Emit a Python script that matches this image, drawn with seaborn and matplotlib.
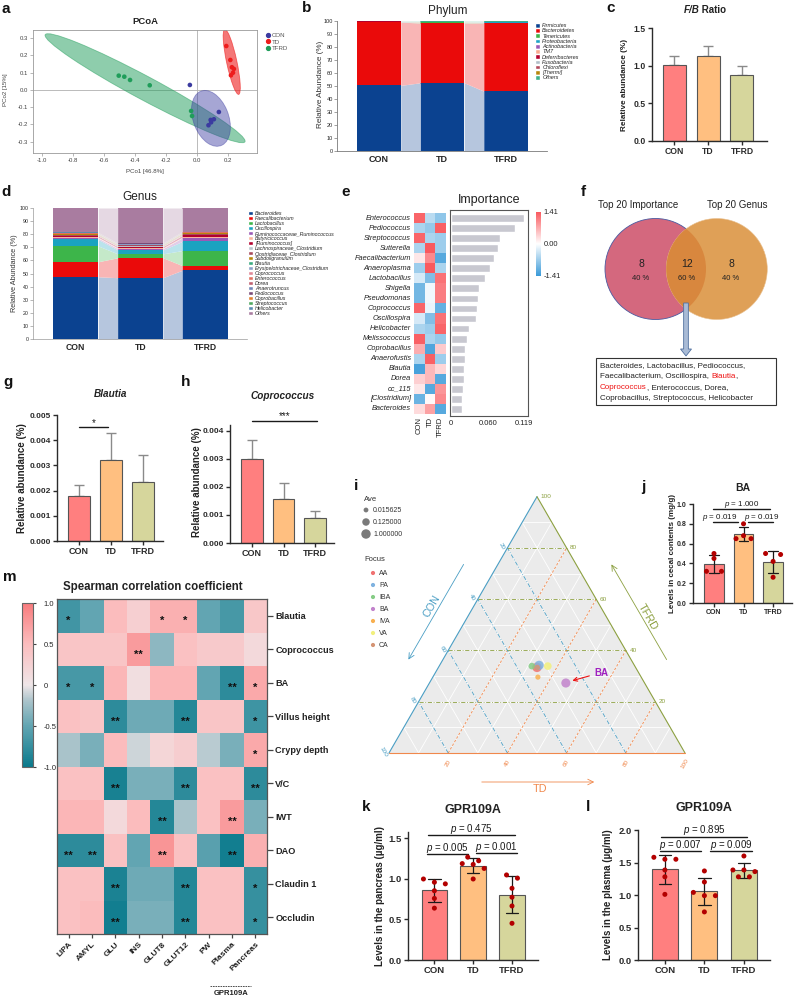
import numpy as np
import pandas as pd
import matplotlib
matplotlib.use("Agg")
import matplotlib.pyplot as plt
import matplotlib.transforms as mtrans
from matplotlib.patches import Ellipse, Patch, Polygon, Rectangle, FancyArrow, Circle
from matplotlib.lines import Line2D
from matplotlib.colors import LinearSegmentedColormap, to_rgb
import seaborn as sns

sns.set_style("ticks")
plt.rcParams["font.family"] = ["Liberation Sans", "DejaVu Sans"]
plt.rcParams["mathtext.fontset"] = "custom"
plt.rcParams["mathtext.rm"] = "Liberation Sans"
plt.rcParams["mathtext.it"] = "Liberation Sans:italic"
plt.rcParams["mathtext.bf"] = "Liberation Sans:bold"
plt.rcParams["axes.unicode_minus"] = False

# ------------------------------------------------------------------ DATA
groups = ["CON", "TD", "TFRD"]
group_colors = ["#ff7f7f", "#ffbf80", "#d6d69c"]

# a  PCoA
pcoa_con_x = [-0.046, 0.141, 0.109, 0.088, 0.091, 0.074]
pcoa_con_y = [0.029, -0.128, -0.170, -0.174, -0.188, -0.205]
pcoa_td_x = [0.189, 0.215, 0.225, 0.238, 0.232, 0.219]
pcoa_td_y = [0.255, 0.174, 0.132, 0.122, 0.100, 0.085]
pcoa_tfrd_x = [-0.505, -0.469, -0.432, -0.305, -0.038, -0.032]
pcoa_tfrd_y = [0.083, 0.077, 0.058, 0.027, -0.122, -0.151]
ellipse_cx = [0.090, 0.224, -0.335]
ellipse_cy = [-0.165, 0.163, 0.010]
ellipse_w = [0.342, 0.388, 1.431]
ellipse_h = [0.226, 0.066, 0.139]
ellipse_angle = [-65.0, -76.6, -25.7]

# b  Phylum
phylum_names = ["Firmicutes", "Bacteroidetes", "Tenericutes", "Proteobacteria", "Actinobacteria",
                "TM7", "Deferribacteres", "Fusobacteria", "Chloroflexi", "[Thermi]", "Others"]
phylum_colors = ["#0b4290", "#ea0a0a", "#3db54a", "#1ba3c6", "#9b59b6", "#f9a98e",
                 "#b3002d", "#b0bec8", "#b24a5c", "#b8860b", "#3fb08a"]
phylum_con = [50.5, 48.6, 0.2, 0.2, 0.05, 0.05, 0.05, 0.02, 0.02, 0.01, 0.3]
phylum_td = [52.5, 46.0, 0.4, 0.2, 0.05, 0.05, 0.05, 0.02, 0.02, 0.3, 0.4]
phylum_tfrd = [46.0, 52.6, 0.2, 0.3, 0.05, 0.05, 0.05, 0.02, 0.02, 0.01, 0.7]

# c  F/B ratio
fb_mean = [1.01, 1.13, 0.875]
fb_err = [0.12, 0.13, 0.12]

# d  Genus
genus_names = ["Bacteroides", "Faecalibacterium", "Lactobacillus", "Oscillospira",
               "Ruminococcaceae_Ruminococcus", "Butyricicoccus", "[Ruminococcus]",
               "Lachnospiraceae_Clostridium", "Clostridiaceae_Clostridium", "Subdoligranulum",
               "Blautia", "Erysipelotrichaceae_Clostridium", "Coprococcus", "Enterococcus",
               "Dorea", "Anaerotruncus", "Pediococcus", "Coprobacillus", "Streptococcus",
               "Helicobacter", "Others"]
genus_colors = ["#0b4290", "#ea0a0a", "#3db54a", "#1aa3c0", "#9b59b6", "#f9b49c", "#b3002d",
                "#b8c4cc", "#a84a5c", "#b8860b", "#3aaa80", "#8a9ec8", "#e08898", "#e07060",
                "#c06070", "#6f86b8", "#7a4a78", "#e08030", "#50a860", "#5a8ab0", "#a97ca0"]
genus_con = [47.5, 11.5, 12.0, 5.0, 1.0, 0.6, 1.0, 0.3, 0.5, 0.5, 0.2, 0.2, 0.2, 0.1, 0.2,
             0.1, 0.1, 0.1, 0.1, 0.1, 18.7]
genus_td = [46.8, 15.2, 3.0, 3.0, 1.0, 0.6, 1.0, 0.4, 0.5, 0.4, 0.2, 0.2, 0.15, 0.1, 0.2,
            0.1, 0.1, 0.1, 0.1, 0.1, 26.75]
genus_tfrd = [52.5, 3.5, 11.5, 7.0, 2.8, 0.5, 1.4, 0.4, 0.5, 0.6, 0.2, 0.2, 0.15, 0.1, 0.2,
              0.1, 0.1, 0.1, 0.1, 0.1, 17.95]

# e  Importance
imp_genera = ["Enterococcus", "Pediococcus", "Streptococcus", "Sutterella", "Faecalibacterium",
              "Anaeroplasma", "Lactobacillus", "Shigella", "Pseudomonas", "Coprococcus",
              "Oscillospira", "Helicobacter", "Melissococcus", "Coprobacillus", "Anaerofustis",
              "Blautia", "Dorea", "cc_115", "[Clostridium]", "Bacteroides"]
imp_values = [0.119, 0.105, 0.0795, 0.0763, 0.0698, 0.0638, 0.0557, 0.0449, 0.0438, 0.0417,
              0.0400, 0.0298, 0.0265, 0.0233, 0.0222, 0.0211, 0.0206, 0.0200, 0.0184, 0.0179]
imp_z_con = [1.30, -0.60, 1.30, -0.60, 0.20, -0.70, -0.30, -1.00, -1.00, 1.30,
             -0.30, -0.60, 1.35, 0.70, -0.60, -1.30, 0.40, 0.20, -1.05, 0.30]
imp_z_td = [-0.50, -0.75, -0.60, 1.40, 1.00, 1.40, -0.90, -0.10, -0.10, -0.15,
            -0.90, -0.70, -0.60, -1.25, 1.35, 0.60, 0.60, -1.20, 0.05, 0.80]
imp_z_tfrd = [-0.80, 1.35, -0.70, -0.70, -1.20, -0.60, 1.20, 1.10, 1.10, -1.10,
              1.20, 1.30, -0.75, 0.45, -0.70, 0.35, -1.20, 0.90, 1.00, -1.20]

# f  Venn
venn_only_importance = 8
venn_shared = 12
venn_only_genus = 8
venn_shared_list = [[("Bacteroides, Lactobacillus, Pediococcus,", "#222222")],
                    [("Faecalibacterium, Oscillospira, ", "#222222"), ("Blautia", "#ee1111"), (",", "#222222")],
                    [("Coprococcus", "#ee1111"), (", Enterococcus, Dorea,", "#222222")],
                    [("Coprobacillus, Streptococcus, Helicobacter", "#222222")]]

# g, h
blautia_mean = [0.00177, 0.00320, 0.00235]
blautia_err = [0.00046, 0.00107, 0.00107]
copro_mean = [0.00298, 0.00157, 0.00088]
copro_err = [0.00071, 0.00056, 0.00027]

# i  ternary
tern_focus = ["AA", "PA", "IBA", "BA", "IVA", "VA", "CA"]
focus_colors = ["#f07272", "#7fb2e0", "#86cc86", "#c283cc", "#f8b050", "#f2f07e", "#d49474"]
tern_con = [0.333, 0.322, 0.348, 0.266, 0.349, 0.294, 0.333]
tern_td = [0.333, 0.336, 0.313, 0.461, 0.355, 0.367, 0.334]
tern_tfrd = [0.334, 0.342, 0.339, 0.273, 0.296, 0.339, 0.333]
tern_ave = [1.0, 0.8, 0.06, 0.7, 0.02, 0.15, 0.03]
ave_legend = [0.015625, 0.125, 1.0]

# j, k, l
ba_con = [0.50, 0.45, 0.32, 0.32]
ba_td = [0.80, 0.68, 0.65, 0.65]
ba_tfrd = [0.50, 0.49, 0.42, 0.26]
gpr_pan_con = [0.96, 1.00, 0.94, 0.855, 0.76, 0.64]
gpr_pan_td = [1.27, 1.19, 1.225, 1.18, 1.13, 1.00]
gpr_pan_tfrd = [1.05, 1.01, 0.885, 0.775, 0.667, 0.453]
gpr_pla_con = [1.55, 1.58, 1.55, 1.385, 1.28, 1.01]
gpr_pla_td = [1.37, 1.20, 1.04, 0.99, 0.99, 0.74]
gpr_pla_tfrd = [1.60, 1.385, 1.385, 1.36, 1.28, 1.28]

# m  Spearman
m_rows = ["Blautia", "Coprococcus", "BA", "Villus height", "Crypy depth", "V/C", "IWT",
          "DAO", "Claudin 1", "Occludin"]
m_cols = ["LIPA", "AMYL", "GLU", "INS", "GLUT8", "GLUT12", "PW", "Plasma", "Pancreas"]
m_vals = [
    [-0.68, -0.50, 0.50, 0.28, 0.60, 0.60, -0.50, -0.65, 0.38],
    [0.40, 0.40, 0.40, 0.75, -0.32, 0.45, 0.35, 0.35, 0.15],
    [-0.65, -0.65, 0.55, 0.10, 0.55, 0.55, -0.50, -0.80, 0.65],
    [0.45, 0.40, -0.80, -0.45, -0.45, -0.85, 0.40, 0.40, -0.70],
    [-0.20, -0.40, 0.50, -0.10, 0.20, 0.30, -0.15, -0.40, 0.65],
    [0.45, 0.45, -0.92, -0.40, -0.40, -0.80, 0.45, 0.45, -0.80],
    [0.55, 0.55, 0.15, 0.50, -0.85, -0.20, 0.45, 0.75, -0.40],
    [-0.80, -0.80, 0.45, -0.50, 0.80, 0.45, -0.55, -0.95, 0.60],
    [0.45, 0.45, -0.90, -0.45, -0.45, -0.85, 0.45, 0.45, -0.75],
    [0.45, 0.50, -0.95, -0.40, -0.40, -0.85, 0.45, 0.45, -0.75],
]
m_stars = [
    ["*", "", "", "", "*", "*", "", "", ""],
    ["", "", "", "**", "", "", "", "", ""],
    ["*", "*", "", "", "", "", "", "**", "*"],
    ["", "", "**", "", "", "**", "", "", "*"],
    ["", "", "", "", "", "", "", "", "*"],
    ["", "", "**", "", "", "**", "", "", "**"],
    ["", "", "", "", "**", "", "", "**", ""],
    ["**", "**", "", "", "**", "", "", "**", ""],
    ["", "", "**", "", "", "**", "", "", "*"],
    ["", "", "**", "", "", "**", "", "", "*"],
]

# ------------------------------------------------------------------ FIGURE
W, H = 794, 997
fig = plt.figure(figsize=(W / 100, H / 100), dpi=100)


def add_ax(x0, y0, x1, y1, **kw):
    return fig.add_axes([x0 / W, 1 - y1 / H, (x1 - x0) / W, (y1 - y0) / H], **kw)


ov = fig.add_axes([0, 0, 1, 1], zorder=10)
ov.set_xlim(0, W)
ov.set_ylim(H, 0)
ov.axis("off")

TXT = "#222222"


def lighten(c, a=0.3):
    r = np.array(to_rgb(c))
    return tuple(a * r + (1 - a))


def chain_text(x, y, segments, center=False, styles=None, **kw):
    styles = styles or ["normal"] * len(segments)
    t0 = ov.text(x, y, segments[0][0], ha="left", va="center", color=segments[0][1],
                 fontstyle=styles[0], **kw)
    arts = [t0]
    prev = t0
    for (s, c), st in zip(segments[1:], styles[1:]):
        a = ov.annotate(s, xy=(1, 0), xycoords=prev, ha="left", va="bottom", color=c,
                        fontstyle=st, **kw)
        arts.append(a)
        prev = a
    if center:
        r = fig.canvas.get_renderer()
        w = arts[-1].get_window_extent(r).x1 - t0.get_window_extent(r).x0
        t0.set_transform(ov.transData + mtrans.ScaledTranslation(-w / 2 / fig.dpi, 0, fig.dpi_scale_trans))
    return arts


def panel_letter(x, y, s):
    ov.text(x, y, s, fontsize=11, fontweight="bold", ha="left", va="center", color="#111111")


def gp_finalize(ax, yticks, yfmt, fs_y, fs_x):
    sns.despine(ax=ax)
    for s in ("left", "bottom"):
        ax.spines[s].set_color("#2b2b2b")
        ax.spines[s].set_linewidth(1.0)
    ax.set_yticks(yticks)
    ax.set_yticklabels([yfmt % v for v in yticks], fontweight="bold", fontsize=fs_y)
    ax.set_xticks(range(3))
    ax.set_xticklabels(groups, fontweight="bold", fontsize=fs_x)
    ax.tick_params(axis="both", length=3, width=1.0, colors="#2b2b2b", pad=1.5)
    ax.set_xlabel("")
    ax.set_ylabel("")


def summary_bar(ax, means, errs, err_color="#8a8a8a"):
    df = pd.DataFrame({"group": groups, "value": means})
    sns.barplot(data=df, x="group", y="value", hue="group", palette=group_colors, width=0.68,
                saturation=1, edgecolor="#555555", linewidth=0.8, errorbar=None, legend=False, ax=ax)
    ax.errorbar(np.arange(3), means, yerr=[np.zeros(3), errs], fmt="none", ecolor=err_color,
                elinewidth=1.0, capsize=3.5, capthick=1.0, zorder=0.9)


def spread_offsets(values, px_per_unit, px_per_cat, thresh_px=5.0, step_px=11.0):
    """GraphPad-like scatter: points of (nearly) equal height share a row and are spread evenly."""
    vals = np.asarray(values, dtype=float)
    order = np.argsort(-vals)
    offs = np.zeros(len(vals))
    clusters, cur = [], [order[0]]
    for idx in order[1:]:
        if (vals[cur[0]] - vals[idx]) * px_per_unit < thresh_px:
            cur.append(idx)
        else:
            clusters.append(cur)
            cur = [idx]
    clusters.append(cur)
    for cl in clusters:
        n = len(cl)
        for k, idx in enumerate(cl):
            offs[idx] = (k - (n - 1) / 2) * step_px / px_per_cat
    return offs


def points_bar(ax, con, td, tfrd, px_per_unit, px_per_cat, step_px=11.0, thresh_px=5.0):
    df = pd.DataFrame({"group": ["CON"] * len(con) + ["TD"] * len(td) + ["TFRD"] * len(tfrd),
                       "value": con + td + tfrd})
    sns.barplot(data=df, x="group", y="value", hue="group", palette=group_colors, width=0.66,
                saturation=1, errorbar="sd", capsize=0.32,
                err_kws={"color": "#1a1a1a", "linewidth": 0.9},
                edgecolor="#555555", linewidth=0.8, legend=False, ax=ax)
    xs = []
    for gi, vals in enumerate([con, td, tfrd]):
        xs.extend(gi + spread_offsets(vals, px_per_unit, px_per_cat, thresh_px=thresh_px, step_px=step_px))
    df["xpos"] = xs
    sns.scatterplot(data=df, x="xpos", y="value", color="#b30000", s=13, edgecolor="none",
                    legend=False, ax=ax, zorder=4)


def sig(ax, xa, xb, y, text, fs, dy=0.6, xtext=None):
    ax.plot([xa, xb], [y, y], color="#1a1a1a", lw=1.0, clip_on=False)
    xt_ = (xa + xb) / 2 if xtext is None else xtext
    ax.annotate(text, xy=(xt_, y), xytext=(0, dy), textcoords="offset points",
                ha="center", va="bottom", fontsize=fs, color="#1a1a1a", annotation_clip=False)


def stacked(ax, names, colors, table, w):
    x = np.arange(3)
    bottom = np.zeros(3)
    for k, name in enumerate(names):
        vals = np.array(table[k])
        top = bottom + vals
        ax.bar(x, vals, bottom=bottom, width=w, color=colors[k], linewidth=0, label=name)
        light = lighten(colors[k], 0.3)
        for i in range(2):
            ax.fill_between([i + w / 2, i + 1 - w / 2], [bottom[i], bottom[i + 1]],
                            [top[i], top[i + 1]], color=light, lw=0)
        bottom = top


# ---------------------------------------------------------------- a PCoA
panel_letter(1, 9, "a")
ax = add_ax(33, 30, 257, 153)
pcoa_palette = {"CON": "#3b3ba0", "TD": "#ee1c1c", "TFRD": "#1f9d5a"}
ell_alpha = {"CON": 0.45, "TD": 0.6, "TFRD": 0.5}
for g in ["TFRD", "CON", "TD"]:
    i = groups.index(g)
    ax.add_patch(Ellipse((ellipse_cx[i], ellipse_cy[i]), ellipse_w[i], ellipse_h[i],
                         angle=ellipse_angle[i], facecolor=pcoa_palette[g], edgecolor=pcoa_palette[g],
                         alpha=ell_alpha[g], lw=0.6, zorder=1))
pcoa_df = pd.DataFrame({"PC1": pcoa_con_x + pcoa_td_x + pcoa_tfrd_x,
                        "PC2": pcoa_con_y + pcoa_td_y + pcoa_tfrd_y,
                        "group": ["CON"] * 6 + ["TD"] * 6 + ["TFRD"] * 6})
ax.axhline(0, color="#b0b0b0", lw=0.6, zorder=0.5)
ax.axvline(0, color="#b0b0b0", lw=0.6, zorder=0.5)
sns.scatterplot(data=pcoa_df, x="PC1", y="PC2", hue="group", palette=pcoa_palette, s=11,
                edgecolor="none", legend=False, ax=ax, zorder=3)
ax.set_xlim(-1.058, 0.387)
ax.set_ylim(-0.366, 0.348)
xt = [-1.0, -0.8, -0.6, -0.4, -0.2, 0.0, 0.2]
ax.set_xticks(xt)
ax.set_xticklabels(["%.1f" % v for v in xt])
yt = [-0.3, -0.2, -0.1, 0.0, 0.1, 0.2, 0.3]
ax.set_yticks(yt)
ax.set_yticklabels(["%.1f" % v for v in yt])
for s in ax.spines.values():
    s.set_color("#9a9a9a")
    s.set_linewidth(0.6)
ax.tick_params(labelsize=4.3, length=2, width=0.5, color="#9a9a9a", labelcolor="#444444", pad=1.5)
ax.set_xlabel("")
ax.set_ylabel("")
ov.text(145, 171, "PCo1 [46.8%]", fontsize=4.4, ha="center", va="center", color="#444444")
ov.text(6, 90, "PCo2 [15%]", fontsize=4.4, ha="center", va="center", rotation=90, color="#444444")
ov.text(145, 21, "PCoA", fontsize=6.8, fontweight="bold", ha="center", va="center", color=TXT)
ax.legend(handles=[Line2D([], [], marker="o", ls="", color=pcoa_palette[g], markersize=2.8, label=g)
                   for g in groups],
          loc="upper left", bbox_to_anchor=(1.03, 1.0), frameon=False, fontsize=4.4,
          handlelength=0.6, handletextpad=0.3, labelspacing=0.25, borderaxespad=0,
          labelcolor="#555555")

# ---------------------------------------------------------------- b Phylum
panel_letter(302, 8, "b")
ax = add_ax(337, 21, 547, 151)
stacked(ax, phylum_names, phylum_colors, np.array([phylum_con, phylum_td, phylum_tfrd]).T, 0.69)
ax.set_xlim(-0.66, 2.65)
ax.set_ylim(0, 100)
ax.set_yticks(range(0, 101, 10))
ax.set_xticks(range(3))
ax.set_xticklabels(groups, fontweight="bold", fontsize=6.5)
sns.despine(ax=ax)
for s in ("left", "bottom"):
    ax.spines[s].set_color("#7a7a7a")
    ax.spines[s].set_linewidth(0.6)
ax.tick_params(axis="y", labelsize=4, length=2, width=0.5, color="#7a7a7a", pad=1)
ax.tick_params(axis="x", length=0, pad=3)
ov.text(321, 84, "Relative Abundance (%)", fontsize=5.9, rotation=90, ha="center", va="center", color="#333333")
ov.text(448, 11, "Phylum", fontsize=8.5, ha="center", va="center", color=TXT)
fig.legend(handles=[Patch(facecolor=c, label=n) for n, c in zip(phylum_names, phylum_colors)],
           loc="upper left", bbox_to_anchor=(535 / W, 1 - 23 / H), frameon=False,
           prop={"style": "italic", "size": 4.0}, labelspacing=0.0, handlelength=0.9,
           handleheight=0.9, handletextpad=0.4, borderpad=0, borderaxespad=0)

# ---------------------------------------------------------------- c F/B
panel_letter(606, 8, "c")
ax = add_ax(652, 28, 767, 141)
summary_bar(ax, fb_mean, fb_err)
ax.set_xlim(-0.66, 2.74)
ax.set_ylim(0, 1.5)
gp_finalize(ax, [0.0, 0.5, 1.0, 1.5], "%.1f", 6.2, 6.2)
ov.text(625, 85, "Relative abundance (%)", fontsize=5.9, fontweight="bold", rotation=90,
        ha="center", va="center", color=TXT)
chain_text(705, 10, [("F/B", TXT), (" Ratio", TXT)], center=True, styles=["italic", "normal"],
           fontsize=7, fontweight="bold")

# ---------------------------------------------------------------- d Genus
panel_letter(1, 192, "d")
ax = add_ax(33, 208, 247, 339)
stacked(ax, genus_names, genus_colors, np.array([genus_con, genus_td, genus_tfrd]).T, 0.70)
ax.set_xlim(-0.66, 2.65)
ax.set_ylim(0, 100)
ax.set_yticks(range(0, 101, 10))
ax.set_xticks(range(3))
ax.set_xticklabels(groups, fontweight="bold", fontsize=6.2)
sns.despine(ax=ax)
for s in ("left", "bottom"):
    ax.spines[s].set_color("#9a9a9a")
    ax.spines[s].set_linewidth(0.5)
ax.tick_params(axis="y", labelsize=3.8, length=2, width=0.5, color="#9a9a9a", pad=1)
ax.tick_params(axis="x", length=0, pad=3)
ov.text(14, 273, "Relative Abundance (%)", fontsize=5.2, rotation=90, ha="center", va="center", color="#333333")
ov.text(140, 197, "Genus", fontsize=8.5, ha="center", va="center", color=TXT)
fig.legend(handles=[Patch(facecolor=c, label=n) for n, c in zip(genus_names, genus_colors)],
           loc="upper left", bbox_to_anchor=(248 / W, 1 - 211 / H), frameon=False,
           prop={"style": "italic", "size": 3.75}, labelspacing=0.0, handlelength=0.9,
           handleheight=0.9, handletextpad=0.4, borderpad=0, borderaxespad=0)

# ---------------------------------------------------------------- e Importance
panel_letter(341, 192, "e")
ax_h = add_ax(414, 213, 446, 414)
cax_e = add_ax(536, 212, 541, 276)
cmap_e = LinearSegmentedColormap.from_list("e", ["#3a9ad8", "#ffffff", "#f9595e"])
zdf = pd.DataFrame({"CON": imp_z_con, "TD": imp_z_td, "TFRD": imp_z_tfrd}, index=imp_genera)
sns.heatmap(zdf, cmap=cmap_e, vmin=-1.41, vmax=1.41, ax=ax_h, cbar_ax=cax_e,
            xticklabels=groups, yticklabels=imp_genera)
ax_h.set_yticklabels(imp_genera, fontstyle="italic", fontsize=5.3, rotation=0, color=TXT)
ax_h.set_xticklabels(groups, rotation=90, fontsize=5.5, color=TXT)
ax_h.tick_params(length=0, pad=2)
ax_h.set_xlabel("")
ax_h.set_ylabel("")
cb = ax_h.collections[0].colorbar
cb.set_ticks([-1.41, 0, 1.41])
cb.set_ticklabels(["-1.41", "0.00", "1.41"])
cb.ax.tick_params(labelsize=5.5, length=0, pad=2)
cb.outline.set_visible(False)

ax_b = add_ax(450, 210, 528, 416)
sns.barplot(x=imp_values, y=imp_genera, orient="h", color="#c8c8d0", saturation=1, width=0.78, ax=ax_b)
ax_b.set_ylim(19.7, -0.8)
ax_b.set_xlim(-0.0016, 0.1255)
ax_b.set_yticks([])
ax_b.set_xticks([0, 0.060, 0.119])
ax_b.set_xticklabels(["0", "0.060", "0.119"])
ax_b.tick_params(axis="x", length=0, labelsize=5.5, pad=3, labelcolor=TXT)
for s in ax_b.spines.values():
    s.set_color("#555555")
    s.set_linewidth(0.8)
ax_b.set_xlabel("")
ax_b.set_ylabel("")
ov.text(489, 200, "Importance", fontsize=9, ha="center", va="center", color=TXT)

# ---------------------------------------------------------------- f Venn
panel_letter(581, 192, "f")
total_imp = venn_only_importance + venn_shared
total_gen = venn_only_genus + venn_shared
cl, cr, cy, rr = 655.5, 716.8, 269, 50.5
left_c = Circle((cl, cy), rr, facecolor="#d4687e", edgecolor="#4a5aa0", lw=0.6)
right_c = Circle((cr, cy), rr, facecolor="#dfa057", edgecolor="#e8c090", lw=0.4)
ov.add_patch(left_c)
ov.add_patch(right_c)
lens = Circle((cr, cy), rr, facecolor="#d8873e", edgecolor="none")
ov.add_patch(lens)
lens.set_clip_path(left_c)
ov.text(641, 264, str(venn_only_importance), fontsize=7.5, ha="center", va="center", color=TXT)
ov.text(641, 278, "%d %%" % round(100 * venn_only_importance / total_imp), fontsize=5.5, ha="center", va="center", color=TXT)
ov.text(687, 264, str(venn_shared), fontsize=7.5, ha="center", va="center", color=TXT)
ov.text(687, 278, "%d %%" % round(100 * venn_shared / total_imp), fontsize=5.5, ha="center", va="center", color=TXT)
ov.text(731, 264, str(venn_only_genus), fontsize=7.5, ha="center", va="center", color=TXT)
ov.text(731, 278, "%d %%" % round(100 * venn_only_genus / total_gen), fontsize=5.5, ha="center", va="center", color=TXT)
ov.text(638, 205, "Top 20 Importance", fontsize=7, ha="center", va="center", color=TXT)
ov.text(737, 205, "Top 20 Genus", fontsize=7, ha="center", va="center", color=TXT)
ov.add_patch(FancyArrow(686, 303, 0, 46, width=4.7, head_width=11, head_length=7,
                        length_includes_head=False, facecolor="#a9bbd6", edgecolor="#50709f", lw=0.6))
ov.add_patch(Rectangle((596, 357.5), 180, 47.5, facecolor="white", edgecolor="#333333", lw=0.8))
for k, segs in enumerate(venn_shared_list):
    chain_text(600, 365.5 + k * 11, segs, fontsize=5.8)

# ---------------------------------------------------------------- g Blautia
panel_letter(3, 382, "g")
ax = add_ax(57, 415, 163, 541)
summary_bar(ax, blautia_mean, blautia_err)
ax.set_xlim(-0.69, 2.63)
ax.set_ylim(0, 0.005)
gp_finalize(ax, [0, 0.001, 0.002, 0.003, 0.004, 0.005], "%.3f", 6.0, 6.5)
sig(ax, 0.0, 0.9, 0.00452, "*", 7, dy=-0.5)
ov.text(22, 478, "Relative abundance (%)", fontsize=7, fontweight="bold", rotation=90, ha="center", va="center", color=TXT)
ov.text(111, 394, "Blautia", fontsize=7.2, fontweight="bold", fontstyle="italic", ha="center", va="center", color=TXT)

# ---------------------------------------------------------------- h Coprococcus
panel_letter(181, 382, "h")
ax = add_ax(230, 425, 334, 543)
summary_bar(ax, copro_mean, copro_err)
ax.set_xlim(-0.7, 2.6)
ax.set_ylim(0, 0.00421)
gp_finalize(ax, [0, 0.001, 0.002, 0.003, 0.004], "%.3f", 6.0, 6.5)
sig(ax, 0.0, 2.06, 0.00436, "***", 7, dy=-0.5)
ov.text(197, 482, "Relative abundance (%)", fontsize=7, fontweight="bold", rotation=90, ha="center", va="center", color=TXT)
ov.text(283, 396, "Coprococcus", fontsize=7.2, fontweight="bold", fontstyle="italic", ha="center", va="center", color=TXT)

# ---------------------------------------------------------------- i ternary
panel_letter(354, 486, "i")
S3 = np.sqrt(3) / 2
x0p, y0p, unit = 389, 753, 296
ax_t = add_ax(362, 480, 700, 800)


def txy(con, td, tfrd):
    tot = np.asarray(con) + np.asarray(td) + np.asarray(tfrd)
    return (np.asarray(td) + np.asarray(tfrd) / 2) / tot, np.asarray(tfrd) / tot * S3


C_CON, C_TD, C_TFRD = "#4a9ec4", "#f0884c", "#8ca040"
ax_t.add_patch(Polygon([txy(1, 0, 0), txy(0, 1, 0), txy(0, 0, 1)], closed=True,
                       facecolor="#ebebeb", edgecolor="none", zorder=0))
for c in np.arange(0.1, 0.95, 0.1):
    for p1, p2 in [(txy(1 - c, 0, c), txy(0, 1 - c, c)), (txy(c, 1 - c, 0), txy(c, 0, 1 - c)),
                   (txy(1 - c, c, 0), txy(0, c, 1 - c))]:
        ax_t.plot([p1[0], p2[0]], [p1[1], p2[1]], color="white", lw=0.6, zorder=1)
for c in [0.2, 0.4, 0.6, 0.8]:
    p1, p2 = txy(1 - c, 0, c), txy(0, 1 - c, c)
    ax_t.plot([p1[0], p2[0]], [p1[1], p2[1]], color=C_TFRD, lw=0.6, dashes=(5, 2, 1, 2), zorder=2)
    p1, p2 = txy(c, 1 - c, 0), txy(c, 0, 1 - c)
    ax_t.plot([p1[0], p2[0]], [p1[1], p2[1]], color=C_CON, lw=0.6, dashes=(5, 2, 1, 2), zorder=2)
    p1, p2 = txy(1 - c, c, 0), txy(0, c, 1 - c)
    ax_t.plot([p1[0], p2[0]], [p1[1], p2[1]], color=C_TD, lw=0.6, dashes=(3, 2), zorder=2)
edges = [(txy(1, 0, 0), txy(0, 0, 1), C_CON), (txy(0, 0, 1), txy(0, 1, 0), C_TFRD),
         (txy(1, 0, 0), txy(0, 1, 0), C_TD)]
for p1, p2, col in edges:
    ax_t.plot([p1[0], p2[0]], [p1[1], p2[1]], color=col, lw=0.8, zorder=3)
for v in [20, 40, 60, 80, 100]:
    c = v / 100
    px, py = txy(0, 1 - c, c)
    ax_t.text(px + 0.012, py, str(v), color=C_TFRD, fontsize=4.6, ha="left", va="center")
    px, py = txy(c, 0, 1 - c)
    ax_t.text(px - 0.02, py + 0.005, str(v), color=C_CON, fontsize=4.6, ha="center", va="center", rotation=-60)
    px, py = txy(1 - c, c, 0)
    ax_t.text(px, py - 0.035, str(v), color=C_TD, fontsize=4.6, ha="center", va="center", rotation=60)


def pxd(x, y):
    return ((x - x0p) / unit, (y0p - y) / unit)


ax_t.annotate("", xy=pxd(407, 662), xytext=pxd(465, 562),
              arrowprops=dict(arrowstyle="->", color=C_CON, lw=0.6))
ax_t.annotate("", xy=pxd(610, 562), xytext=pxd(668, 662),
              arrowprops=dict(arrowstyle="->", color=C_TFRD, lw=0.6))
ax_t.annotate("", xy=pxd(597, 782), xytext=pxd(479, 782),
              arrowprops=dict(arrowstyle="->", color=C_TD, lw=0.6))
ax_t.text(*pxd(432, 606), "CON", color=C_CON, fontsize=7.8, rotation=60, ha="center", va="center")
ax_t.text(*pxd(648, 617), "TFRD", color=C_TFRD, fontsize=7.8, rotation=-60, ha="center", va="center")
ax_t.text(*pxd(540, 789), "TD", color=C_TD, fontsize=7.8, ha="center", va="center")

tx, ty = txy(tern_con, tern_td, tern_tfrd)
tern_df = pd.DataFrame({"x": tx, "y": ty, "Focus": tern_focus, "logAve": np.log2(tern_ave)})
SMIN, SMAX = 12, 46
sns.scatterplot(data=tern_df, x="x", y="y", hue="Focus", palette=dict(zip(tern_focus, focus_colors)),
                size="logAve", sizes=(SMIN, SMAX), size_norm=(-6, 0), alpha=0.85,
                edgecolor="none", legend=False, ax=ax_t, zorder=5)
ax_t.set_xlim((362 - x0p) / unit, (700 - x0p) / unit)
ax_t.set_ylim((y0p - 800) / unit, (y0p - 480) / unit)
ax_t.axis("off")
bi = tern_focus.index("BA")
bx, by = tx[bi], ty[bi]
ax_t.annotate("BA", xy=(bx + 0.022, by + 0.008), xytext=(bx + 0.095, by + 0.035),
              fontsize=7, fontweight="bold", color="#a020c0", ha="left", va="center",
              arrowprops=dict(arrowstyle="->", color="#ee1111", lw=0.8, shrinkA=1, shrinkB=0))

# legend for i
ov.text(364, 499, "Ave", fontsize=5.5, ha="left", va="center", color="#333333")
for k, a in enumerate(ave_legend):
    sz = SMIN + (np.log2(a) + 6) / 6 * (SMAX - SMIN)
    ov.scatter([366], [510 + 12 * k], s=sz, color="#7a7a7a", edgecolor="none")
    ov.text(373, 510 + 12 * k, "%.6f" % a, fontsize=5.0, ha="left", va="center", color="#333333")
ov.text(364, 559, "Focus", fontsize=5.5, ha="left", va="center", color="#333333")
for k, (f, col) in enumerate(zip(tern_focus, focus_colors)):
    ov.scatter([373], [573 + 12 * k], s=9, color=col, edgecolor="none")
    ov.text(379, 573 + 12 * k, f, fontsize=5.0, ha="left", va="center", color="#333333")

# ---------------------------------------------------------------- j BA
panel_letter(641, 487, "j")
ax = add_ax(693, 504, 792, 603)
points_bar(ax, ba_con, ba_td, ba_tfrd, px_per_unit=99, px_per_cat=29.5, step_px=15.0, thresh_px=2.5)
ax.set_xlim(-0.71, 2.64)
ax.set_ylim(0, 1.0)
gp_finalize(ax, [0.0, 0.2, 0.4, 0.6, 0.8, 1.0], "%.1f", 5.0, 5.0)
sig(ax, -0.03, 1.9, 0.95, "$p$ = 1.000", 5.8, dy=-0.8)
sig(ax, -0.03, 0.81, 0.82, "$p$ = 0.019", 5.8, dy=-0.8, xtext=0.2)
sig(ax, 1.15, 2.0, 0.82, "$p$ = 0.019", 5.8, dy=-0.8, xtext=1.6)
ov.text(672, 553, "Levels in cecal contents (mg/g)", fontsize=5.8, fontweight="bold", rotation=90, ha="center", va="center", color=TXT)
ov.text(743, 488, "BA", fontsize=7.5, fontweight="bold", ha="center", va="center", color=TXT)

# ---------------------------------------------------------------- k GPR109A pancreas
panel_letter(362, 807, "k")
ax = add_ax(408, 832, 538, 960)
points_bar(ax, gpr_pan_con, gpr_pan_td, gpr_pan_tfrd, px_per_unit=81, px_per_cat=39)
ax.set_xlim(-0.68, 2.67)
ax.set_ylim(0, 1.58)
gp_finalize(ax, [0.0, 0.5, 1.0, 1.5], "%.1f", 6.8, 6.8)
sig(ax, -0.17, 2.09, 1.54, "$p$ = 0.475", 7.0, dy=-0.5)
sig(ax, -0.19, 0.86, 1.31, "$p$ = 0.005", 7.0, dy=-0.5)
sig(ax, 1.06, 2.12, 1.32, "$p$ = 0.001", 7.0, dy=-0.5)
ov.text(380, 896, "Levels in the pancreas (µg/ml)", fontsize=7, fontweight="bold", rotation=90, ha="center", va="center", color=TXT)
ov.text(473, 810, "GPR109A", fontsize=9, fontweight="bold", ha="center", va="center", color=TXT)

# ---------------------------------------------------------------- l GPR109A plasma
panel_letter(586, 807, "l")
ax = add_ax(638, 830, 770, 960)
points_bar(ax, gpr_pla_con, gpr_pla_td, gpr_pla_tfrd, px_per_unit=65, px_per_cat=39.5)
ax.set_xlim(-0.68, 2.66)
ax.set_ylim(0, 2.0)
gp_finalize(ax, [0.0, 0.5, 1.0, 1.5, 2.0], "%.1f", 6.8, 6.8)
sig(ax, -0.10, 2.08, 1.90, "$p$ = 0.895", 7.0, dy=-0.5)
sig(ax, -0.13, 0.91, 1.67, "$p$ = 0.007", 7.0, dy=-0.5)
sig(ax, 1.15, 2.20, 1.67, "$p$ = 0.009", 7.0, dy=-0.5)
ov.text(608, 895, "Levels in the plasma (µg/ml)", fontsize=7, fontweight="bold", rotation=90, ha="center", va="center", color=TXT)
ov.text(704, 808, "GPR109A", fontsize=9, fontweight="bold", ha="center", va="center", color=TXT)

# ---------------------------------------------------------------- m Spearman
panel_letter(3, 577, "m")
ax_m = add_ax(57, 599, 267, 934)
cax_m = add_ax(22, 603, 33, 767)
cmap_m = LinearSegmentedColormap.from_list(
    "m", [(0.0, "#0a7a8c"), (0.25, "#62a5b2"), (0.4, "#a9c3ca"), (0.5, "#efe6e8"),
          (0.75, "#fbbdbe"), (1.0, "#f87b7d")])
mdf = pd.DataFrame(m_vals, index=m_rows, columns=m_cols)
sns.heatmap(mdf, cmap=cmap_m, vmin=-1, vmax=1, ax=ax_m, cbar_ax=cax_m,
            xticklabels=m_cols, yticklabels=m_rows)
for i in range(len(m_rows)):
    for j in range(len(m_cols)):
        if m_stars[i][j]:
            ax_m.text(j + 0.5, i + 0.66, m_stars[i][j], ha="center", va="center", fontsize=8,
                      fontweight="bold", color="#111111")
ax_m.yaxis.tick_right()
ax_m.set_yticklabels(m_rows, rotation=0, fontweight="bold", fontsize=6.6, color=TXT)
ax_m.set_xticklabels(m_cols, rotation=45, ha="right", rotation_mode="anchor", fontweight="bold", fontsize=6.0, color=TXT)
ax_m.tick_params(axis="y", length=4, width=0.9, color="#444444", pad=2, left=False, right=True)
ax_m.tick_params(axis="x", length=3, width=0.9, color="#444444", pad=2)
ax_m.set_xlabel("")
ax_m.set_ylabel("")
for s in ax_m.spines.values():
    s.set_visible(True)
    s.set_color("#555555")
    s.set_linewidth(0.9)
cbm = ax_m.collections[0].colorbar
cbm.set_ticks([-1, -0.5, 0, 0.5, 1])
cbm.set_ticklabels(["-1.0", "-0.5", "0", "0.5", "1.0"])
cbm.ax.tick_params(labelsize=5.5, length=2.5, width=0.8, color="#444444", pad=5)
cbm.outline.set_edgecolor("#666666")
cbm.outline.set_linewidth(0.8)
ov.text(153, 587, "Spearman correlation coefficient", fontsize=8.3, fontweight="bold", ha="center", va="center", color=TXT)
ov.plot([210, 251], [986, 986], ls=(0, (2, 1)), color="#333333", lw=0.6)
ov.text(231, 993, "GPR109A", fontsize=5.5, fontweight="bold", ha="center", va="center", color=TXT)

fig.savefig("out.png", dpi=100)
